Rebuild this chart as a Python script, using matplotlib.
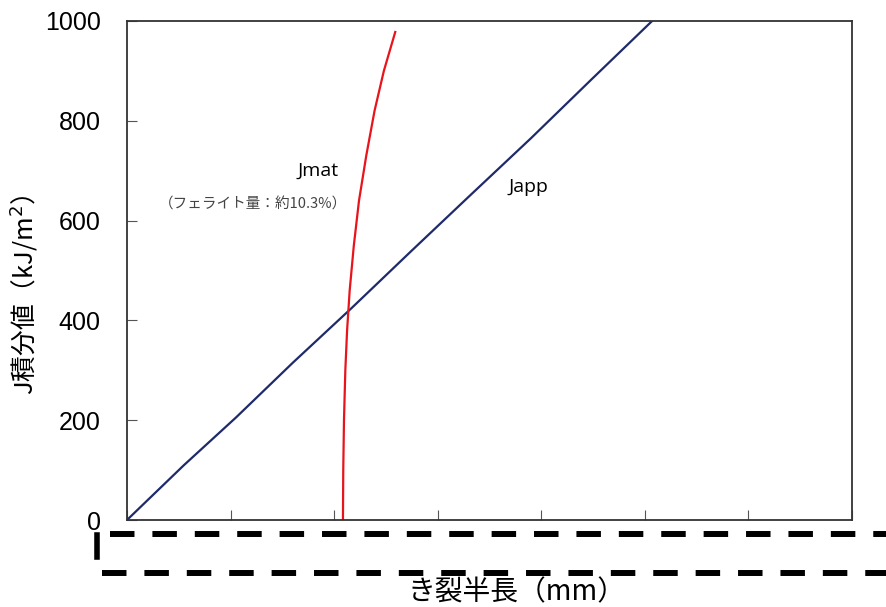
import matplotlib
matplotlib.use('Agg')

import matplotlib.pyplot as plt
from matplotlib.lines import Line2D

plt.rcParams['font.family'] = ['Liberation Sans', 'Noto Sans CJK JP', 'DejaVu Sans']

# Japp: applied J vs crack half length
japp_a = [0.0, 0.55, 1.05, 1.6, 2.17, 2.75, 3.3, 3.9, 4.48, 5.07]
japp_j = [0, 110, 205, 315, 425, 540, 648, 765, 882, 1000]

# Jmat: material resistance curve
jmat_a = [2.085, 2.088, 2.095, 2.108, 2.125, 2.15, 2.19, 2.24, 2.31, 2.39, 2.48, 2.59]
jmat_j = [0, 100, 200, 300, 380, 460, 550, 640, 730, 820, 900, 978]

xticks = [0, 1, 2, 3, 4, 5, 6, 7]
yticks = [0, 200, 400, 600, 800, 1000]

fig = plt.figure(figsize=(8.86, 6.07), dpi=100)
ax = fig.add_axes([127/886, 1 - 520/607, (852-127)/886, (520-21)/607])

ax.plot(japp_a, japp_j, color='#1f2a6b', lw=1.6)
ax.plot(jmat_a, jmat_j, color='#e8141c', lw=1.6)

ax.set_xlim(0, 7)
ax.set_ylim(0, 1000)
ax.set_xticks(xticks)
ax.set_xticklabels([])
ax.set_yticks(yticks)
ax.tick_params(axis='x', direction='in', length=7, width=0.8, color='#555555')
ax.tick_params(axis='y', direction='in', length=7, width=0.8, color='#555555',
               labelsize=18, pad=19)
for s in ax.spines.values():
    s.set_linewidth(1.3)
    s.set_color('#333333')

ax.text(1.84, 700, 'Jmat', fontsize=14, ha='center', va='center',
        family=['Open Sans', 'DejaVu Sans'])
ax.text(3.88, 668, 'Japp', fontsize=14, ha='center', va='center',
        family=['Open Sans', 'DejaVu Sans'])
ax.text(1.22, 632, '（フェライト量：約10.3%）', fontsize=10.5, color='#444444',
        ha='center', va='center', family=['Noto Sans CJK JP', 'DejaVu Sans'])

fig.text(24/886, 1 - 295/607, 'J積分値（kJ/m$^2$）', fontsize=18.5, rotation=90,
         ha='center', va='center', family=['Noto Sans CJK JP', 'DejaVu Sans'])

# stray dashed lines under the plot
fig.add_artist(Line2D([110/886, 1.0], [1 - 534/607] * 2, color='black', lw=4.3,
                      linestyle=(0, (4.1, 3.0))))
fig.add_artist(Line2D([102/886, 1.0], [1 - 573/607] * 2, color='black', lw=4.3,
                      linestyle=(0, (4.1, 3.0))))
fig.add_artist(Line2D([97/886] * 2, [1 - 535/607, 1 - 557/607], color='black', lw=4))

fig.text(517/886, 1 - 592/607, 'き裂半長（mm）', fontsize=20, ha='center', va='center',
         family=['Noto Sans CJK JP', 'DejaVu Sans'])

fig.savefig('out.png', dpi=100)
